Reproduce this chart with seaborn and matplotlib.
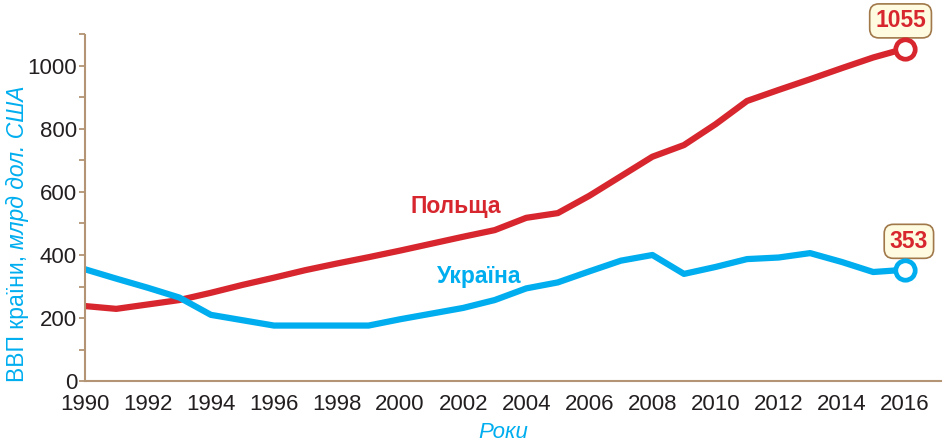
import matplotlib
matplotlib.use('Agg')
import matplotlib.pyplot as plt
import seaborn as sns
import pandas as pd
from matplotlib.ticker import MultipleLocator

# ВВП Польщі та України, млрд дол. США
years = list(range(1990, 2017))
poland = [238, 229, 243, 257, 280, 305, 328, 352, 373, 393, 414, 436, 458, 479,
          518, 533, 588, 650, 712, 749, 815, 889, 924, 958, 993, 1027, 1055]
ukraine = [355, 325, 296, 265, 210, 193, 176, 176, 176, 176, 196, 214, 232, 257,
           294, 313, 348, 382, 400, 340, 362, 387, 392, 406, 378, 346, 353]
names = ['Польща', 'Україна']
end_labels = ['1055', '353']

red = '#d7262e'
blue = '#00aeef'
brown = '#b39474'
ink = '#231f20'

sns.set_style('white')
plt.rcParams['font.family'] = ['Liberation Sans', 'DejaVu Sans']

df = pd.DataFrame({'year': years, names[0]: poland, names[1]: ukraine})

fig = plt.figure(figsize=(9.44, 4.42), dpi=100)
ax = fig.add_axes([84.7 / 944, 61 / 442, (941 - 84.7) / 944, (381 - 34.5) / 442])

sns.lineplot(data=df, x='year', y=names[0], color=red, linewidth=4.5, ax=ax,
             solid_capstyle='round', solid_joinstyle='round')
sns.lineplot(data=df, x='year', y=names[1], color=blue, linewidth=4.5, ax=ax,
             solid_capstyle='round', solid_joinstyle='round')

# кінцеві точки з підписами
for ser, col, lab, off in [(poland, red, end_labels[0], (-3, 20)),
                           (ukraine, blue, end_labels[1], (3, 20.5))]:
    ax.plot(years[-1], ser[-1], 'o', ms=14, mfc='white', mec=col, mew=3.4,
            zorder=5, clip_on=False)
    ax.annotate(lab, (years[-1], ser[-1]), xytext=off, textcoords='offset points',
                ha='center', va='center', fontsize=16.5, fontweight='bold', color=red,
                annotation_clip=False,
                bbox=dict(boxstyle='round,pad=0.24,rounding_size=0.4',
                          fc='#fffbe0', ec='#a0784a', lw=1.2))

ax.text(2001.75, 555, names[0], color=red, fontsize=16.5, fontweight='bold',
        ha='center', va='center')
ax.text(2002.5, 333, names[1], color=blue, fontsize=16.5, fontweight='bold',
        ha='center', va='center')

ax.set_xlim(1990, 2017.15)
ax.set_ylim(0, 1100)
ax.set_xlabel('')
ax.set_ylabel('')

for s in ['top', 'right']:
    ax.spines[s].set_visible(False)
for s in ['left', 'bottom']:
    ax.spines[s].set_color(brown)
    ax.spines[s].set_linewidth(1.5)

ax.xaxis.set_major_locator(MultipleLocator(2))
ax.xaxis.set_minor_locator(MultipleLocator(1))
ax.yaxis.set_major_locator(MultipleLocator(200))
ax.yaxis.set_minor_locator(MultipleLocator(100))
ax.tick_params(axis='x', which='both', direction='inout', length=11, width=1.3,
               color=brown, labelsize=16, labelcolor=ink, pad=4)
ax.tick_params(axis='y', which='both', direction='in', length=8.6, width=1.3,
               color=brown, labelsize=16, labelcolor=ink, pad=5.5)
for t in ax.get_xticklabels() + ax.get_yticklabels():
    t.set_family(['Liberation Sans Narrow', 'Liberation Sans'])

# короткі зовнішні засічки осі y
sec = ax.secondary_yaxis('left')
sec.set_yticks(range(0, 1101, 100))
sec.set_yticklabels([])
sec.tick_params(direction='out', length=4.3, width=1.3, color=brown)
sec.spines['left'].set_visible(False)

# підпис осі y: звичайний + курсив
fig.canvas.draw()
t1 = fig.text(18 / 944, 60 / 442, 'ВВП країни, ', rotation=90, ha='center',
              va='bottom', color=blue, fontsize=16.5)
fig.canvas.draw()
bb = t1.get_window_extent()
fig.text(18 / 944, bb.y1 / fig.bbox.height, 'млрд дол. США', rotation=90,
         ha='center', va='bottom', color=blue, fontsize=16.5, style='italic')

fig.text(503 / 944, 1 - 432 / 442, 'Роки', color=blue, fontsize=16, style='italic',
         ha='center', va='center')

fig.savefig('out.png', dpi=100)
